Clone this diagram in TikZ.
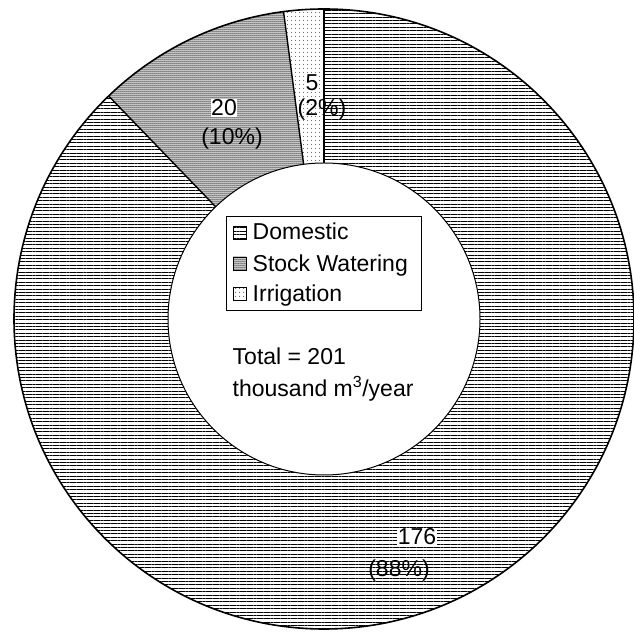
\documentclass[tikz,border=0pt]{standalone}
\usepackage{fontspec}
\setmainfont{Liberation Sans}
\usetikzlibrary{patterns.meta}

\begin{document}
\begin{tikzpicture}[x=1pt,y=1pt,
  domestic/.style={pattern={Lines[angle=0,distance=3.4pt,line width=1pt]}},
  stock/.style={pattern={Dots[distance=2pt,radius=0.75pt]}},
  irrig/.style={pattern={Dots[distance=4pt,radius=0.55pt]}},
  lbl/.style={inner sep=0.5pt,font=\fontsize{23}{26}\selectfont},
  num/.style={lbl,fill=white}]

\newcommand\RO{310}
\newcommand\RI{156}

  \useasboundingbox (0,0) rectangle (633,636);
  \coordinate (c) at (324,317);

  %% slices
  \fill[domestic] (c) -- ++(134:\RO) arc (134:450:\RO) -- cycle;
  \fill[stock]    (c) -- ++(97.5:\RO) arc (97.5:134:\RO) -- cycle;
  \fill[irrig]    (c) -- ++(90:\RO) arc (90:97.5:\RO) -- cycle;

  %% borders
  \draw[line width=1.6pt] (c) circle (\RO);
  \draw[line width=1.4pt] (c) -- ++(90:\RO);
  \draw[line width=1.4pt] (c) -- ++(97.5:\RO);
  \draw[line width=1.4pt] (c) -- ++(134:\RO);

  %% hole
  \draw[fill=white, line width=1pt] (c) circle (\RI);

  %% slice labels
  \node[num] (n5)   at (312,553) {5};
  \node[lbl] (p5)   at (322,526) {(2\%)};
  \node[num] (n20)  at (224,528) {20};
  \node[lbl] (p20)  at (232,497) {(10\%)};
  \node[num] (n176) at (417,99)  {176};
  \node[lbl] (p176) at (399,65)  {(88\%)};

  %% legend
  \draw[line width=0.8pt] (226,420) rectangle (421,326);
  \draw[domestic] (233,397) rectangle (246,410);
  \draw[stock]    (233,366) rectangle (246,379);
  \draw[irrig]    (233,336) rectangle (246,349);
  \draw[line width=0.6pt] (233,397) rectangle (246,410);
  \draw[line width=0.6pt] (233,366) rectangle (246,379);
  \draw[line width=0.6pt] (233,336) rectangle (246,349);
  \node[lbl,anchor=base west] (ldom) at (252,396) {Domestic};
  \node[lbl,anchor=base west] (lsto) at (252,364) {Stock Watering};
  \node[lbl,anchor=base west] (lirr) at (252,334) {Irrigation};

  %% total
  \node[lbl,anchor=base west] (tot)  at (232,271) {Total = 201};
  \node[lbl,anchor=base west] (unit) at (232,239) {thousand m\textsuperscript{3}/year};

\end{tikzpicture}
\end{document}
